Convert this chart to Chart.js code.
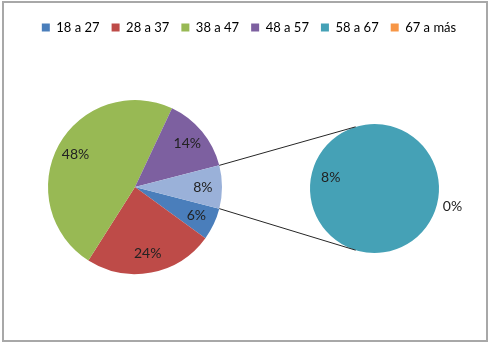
<!DOCTYPE html>
<html>
<head>
<meta charset="utf-8">
<script src="https://cdn.jsdelivr.net/npm/chart.js@4.4.1/dist/chart.umd.min.js"></script>
<style>
  html, body { margin: 0; padding: 0; background: #fff; }
  #wrap { position: relative; width: 498px; height: 347px; }
  #frame { position: absolute; left: 2px; top: 1px; width: 482px; height: 337px; border: 2px solid #a8a8a8; }
  canvas { position: absolute; left: 0; top: 0; }
  #pie2 { pointer-events: none; }
</style>
</head>
<body>
<div id="wrap">
  <div id="frame"></div>
  <canvas id="pie1" width="498" height="347"></canvas>
  <canvas id="pie2" width="498" height="347"></canvas>
</div>
<script>
// ========== DATA ==========
const categories = ['18 a 27', '28 a 37', '38 a 47', '48 a 57', '58 a 67', '67 a más'];
const counts = [3, 12, 24, 7, 4, 0];
const colors = ['#4A7EBB', '#BE4B48', '#98B954', '#7D60A0', '#45A1B6', '#F79646'];
const otherColor = '#9AB1D9';
const splitAt = 4;   // las dos últimas categorías van al segundo gráfico

const total = counts.reduce((a, b) => a + b, 0);
const mainLabels = categories.slice(0, splitAt).concat(['Otro']);
const mainValues = counts.slice(0, splitAt).concat([counts.slice(splitAt).reduce((a, b) => a + b, 0)]);
const subLabels = categories.slice(splitAt);
const subValues = counts.slice(splitAt);

// el sector "Otro" queda centrado a las 3 en punto
const startRot = 90 + (mainValues[splitAt] / total) * 180;

const FONT = 'Lato, "Open Sans", sans-serif';
let mainChart, subChart;

// ========== PLUGINS ==========
// fija el área del pastel (centro y radio) después del layout
function pieBox(cx, cy, r) {
    return {
        id: 'pieBox',
        afterLayout(chart) {
            chart.chartArea = { left: cx - r, top: cy - r, right: cx + r, bottom: cy + r, width: 2 * r, height: 2 * r };
        }
    };
}

// etiquetas de porcentaje
function pctLabels(inside) {
    return {
        id: 'pctLabels',
        afterDatasetsDraw(chart) {
            const ctx = chart.ctx;
            const meta = chart.getDatasetMeta(0);
            const values = chart.data.datasets[0].data;
            ctx.save();
            ctx.font = '14px ' + FONT;
            ctx.fillStyle = '#222';
            ctx.textBaseline = 'middle';
            meta.data.forEach((arc, i) => {
                const p = arc.getProps(['x', 'y', 'startAngle', 'endAngle', 'outerRadius']);
                const txt = Math.round(values[i] / total * 100) + '%';
                if (values[i] === 0) {
                    const a = p.startAngle;
                    const rr = p.outerRadius + 6;
                    ctx.textAlign = 'left';
                    ctx.fillText(txt, p.x + Math.cos(a) * rr, p.y + Math.sin(a) * rr);
                } else {
                    const a = (p.startAngle + p.endAngle) / 2;
                    const rr = p.outerRadius * inside;
                    ctx.textAlign = 'center';
                    ctx.fillText(txt, p.x + Math.cos(a) * rr, p.y + Math.sin(a) * rr);
                }
            });
            ctx.restore();
        }
    };
}

// líneas que unen el sector "Otro" con el segundo pastel
const connectors = {
    id: 'connectors',
    afterDraw(chart) {
        const src = mainChart.getDatasetMeta(0).data[splitAt].getProps(['x', 'y', 'startAngle', 'endAngle', 'outerRadius']);
        const dst = chart.getDatasetMeta(0).data[0].getProps(['x', 'y', 'outerRadius']);
        const tilt = 107 * Math.PI / 180;
        const ctx = chart.ctx;
        ctx.save();
        ctx.strokeStyle = '#262626';
        ctx.lineWidth = 1;
        ctx.beginPath();
        ctx.moveTo(src.x + Math.cos(src.startAngle) * src.outerRadius, src.y + Math.sin(src.startAngle) * src.outerRadius);
        ctx.lineTo(dst.x + Math.cos(-tilt) * dst.outerRadius, dst.y + Math.sin(-tilt) * dst.outerRadius);
        ctx.moveTo(src.x + Math.cos(src.endAngle) * src.outerRadius, src.y + Math.sin(src.endAngle) * src.outerRadius);
        ctx.lineTo(dst.x + Math.cos(tilt) * dst.outerRadius, dst.y + Math.sin(tilt) * dst.outerRadius);
        ctx.stroke();
        ctx.restore();
    }
};

// ========== CHARTS ==========
mainChart = new Chart(document.getElementById('pie1'), {
    type: 'pie',
    data: {
        labels: mainLabels,
        datasets: [{
            data: mainValues,
            backgroundColor: colors.slice(0, splitAt).concat([otherColor]),
            borderWidth: 0
        }]
    },
    options: {
        responsive: false,
        animation: false,
        devicePixelRatio: 1,
        rotation: startRot,
        layout: { padding: { top: 9 } },
        plugins: {
            tooltip: { enabled: false },
            legend: {
                position: 'top',
                onClick: null,
                labels: {
                    boxWidth: 8,
                    boxHeight: 8,
                    padding: 12,
                    color: '#333',
                    font: { family: FONT, size: 13 },
                    generateLabels: () => categories.map((c, i) => ({
                        text: c, fillStyle: colors[i], strokeStyle: colors[i], lineWidth: 0, hidden: false, index: i
                    }))
                }
            }
        }
    },
    plugins: [pieBox(135, 187, 87), pctLabels(0.78)]
});

subChart = new Chart(document.getElementById('pie2'), {
    type: 'pie',
    data: {
        labels: subLabels,
        datasets: [{
            data: subValues,
            backgroundColor: colors.slice(splitAt),
            borderWidth: 0
        }]
    },
    options: {
        responsive: false,
        animation: false,
        devicePixelRatio: 1,
        rotation: startRot,
        plugins: { tooltip: { enabled: false }, legend: { display: false } }
    },
    plugins: [pieBox(374.5, 188.5, 64.5), pctLabels(0.7), connectors]
});
</script>
</body>
</html>
